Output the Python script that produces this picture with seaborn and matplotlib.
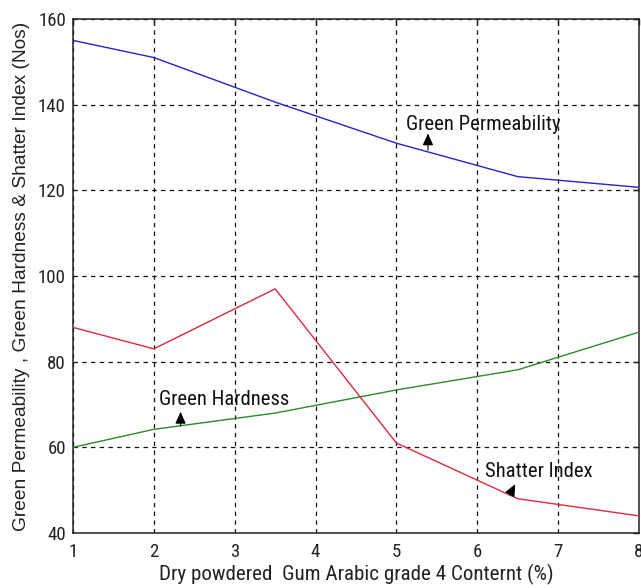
import os
import matplotlib
matplotlib.use("Agg")
import matplotlib.pyplot as plt
from matplotlib import font_manager
from matplotlib.font_manager import FontProperties
import numpy as np
import pandas as pd
import seaborn as sns

# Gum Arabic content (%) and the three measured properties
content = [1, 2, 3.5, 5, 6.5, 8]
green_permeability = [155, 151, 140.6, 131, 123.2, 120.7]
green_hardness = [60, 64.2, 68, 73.4, 78.1, 86.9]
shatter_index = [88, 83, 97, 61, 48, 44]

series_names = ["Green Permeability", "Green Hardness", "Shatter Index"]
series_colors = ["#2424c8", "#2a8a2a", "#dd2a40"]

x_ticks = [1, 2, 3, 4, 5, 6, 7, 8]
y_ticks = [40, 60, 80, 100, 120, 140, 160]

x_label = "Dry powdered  Gum Arabic grade 4 Conternt (%)"
y_label = "Green Permeability , Green Hardness & Shatter Index (Nos)"

# label text, text anchor (x, baseline y), arrow tail (x, y), arrow head (x, y)
callouts = [
    ("Green Permeability", (5.12, 134.1), (5.39, 129.4), (5.39, 133.3)),
    ("Green Hardness", (2.06, 69.9), (2.33, 65.0), (2.33, 68.3)),
    ("Shatter Index", (6.10, 53.0), (6.40, 48.9), (6.47, 51.4)),
]

sns.set_style("white")
plt.rcParams["font.family"] = ["Liberation Sans", "DejaVu Sans"]


def narrow_font():
    """Pick a plain condensed sans face (not extra/semi condensed) if installed."""
    preferred = ["Liberation Sans Narrow", "Roboto Condensed", "Noto Sans",
                 "Open Sans", "DejaVu Sans"]
    found = {}
    for f in font_manager.fontManager.ttflist:
        base = os.path.basename(f.fname).lower()
        if not ("condensed" in base or "narrow" in base):
            continue
        if any(w in base for w in ("extra", "semi", "ultra")):
            continue
        if f.style != "normal" or f.weight not in (400, "normal", "regular", "book"):
            continue
        found.setdefault(f.name, f.fname)
    for name in preferred:
        if name in found:
            return FontProperties(fname=found[name])
    if found:
        return FontProperties(fname=next(iter(found.values())))
    return FontProperties(family=["Liberation Sans", "DejaVu Sans"])


base_font = narrow_font()


def sized(size):
    fp = base_font.copy()
    fp.set_size(size)
    return fp


df = pd.DataFrame({
    "content": content * 3,
    "value": green_permeability + green_hardness + shatter_index,
    "series": np.repeat(series_names, len(content)),
})

fig = plt.figure(figsize=(6.41, 5.88), dpi=100)
ax = fig.add_axes([73 / 641, 55 / 588, 566 / 641, 514 / 588])

sns.lineplot(data=df, x="content", y="value", hue="series",
             hue_order=series_names, palette=series_colors,
             linewidth=1.0, legend=False, ax=ax, zorder=3)

ax.set_xlim(1, 8)
ax.set_ylim(40, 160)
ax.set_xticks(x_ticks)
ax.set_yticks(y_ticks)

ax.grid(True, color="#111111", linestyle=(0, (3.5, 3.5)), linewidth=0.9)
for s in ax.spines.values():
    s.set_visible(True)
    s.set_color("#222222")
    s.set_linewidth(1.1)

ax.tick_params(axis="both", which="major", direction="in", length=4.5,
               width=1.0, color="#222222", top=True, right=True,
               labelcolor="#222222")
ax.tick_params(axis="x", pad=7)
ax.tick_params(axis="y", pad=5)

# scale the condensed face relative to the width of the x label
renderer = fig.canvas.get_renderer()
probe = fig.text(0, 0, x_label, fontproperties=sized(14.5))
probe_w = probe.get_window_extent(renderer).width
probe.remove()
k = 363.0 / probe_w

tick_fp = sized(12.3 * k * 1.15)
ax.set_xticklabels([str(t) for t in x_ticks], fontproperties=tick_fp)
ax.set_yticklabels([str(t) for t in y_ticks], fontproperties=tick_fp)

ax.set_xlabel(x_label, fontproperties=sized(14.5 * k * 1.08), color="#222222",
              labelpad=2)
ax.set_ylabel(y_label, fontsize=13.8, color="#222222", labelpad=6,
              family=["Liberation Sans", "DejaVu Sans"])

for text, (tx, ty), (ax0, ay0), (hx, hy) in callouts:
    ax.text(tx, ty, text, fontproperties=sized(14.0 * k * 1.1), color="#111111",
            ha="left", va="baseline", zorder=5)
    ax.annotate("", xy=(hx, hy), xytext=(ax0, ay0),
                arrowprops=dict(arrowstyle="-|>,head_length=0.45,head_width=0.2",
                                color="black", lw=0.8, shrinkA=0, shrinkB=0,
                                mutation_scale=16),
                zorder=5)

fig.savefig("out.png", dpi=100, facecolor="white")
